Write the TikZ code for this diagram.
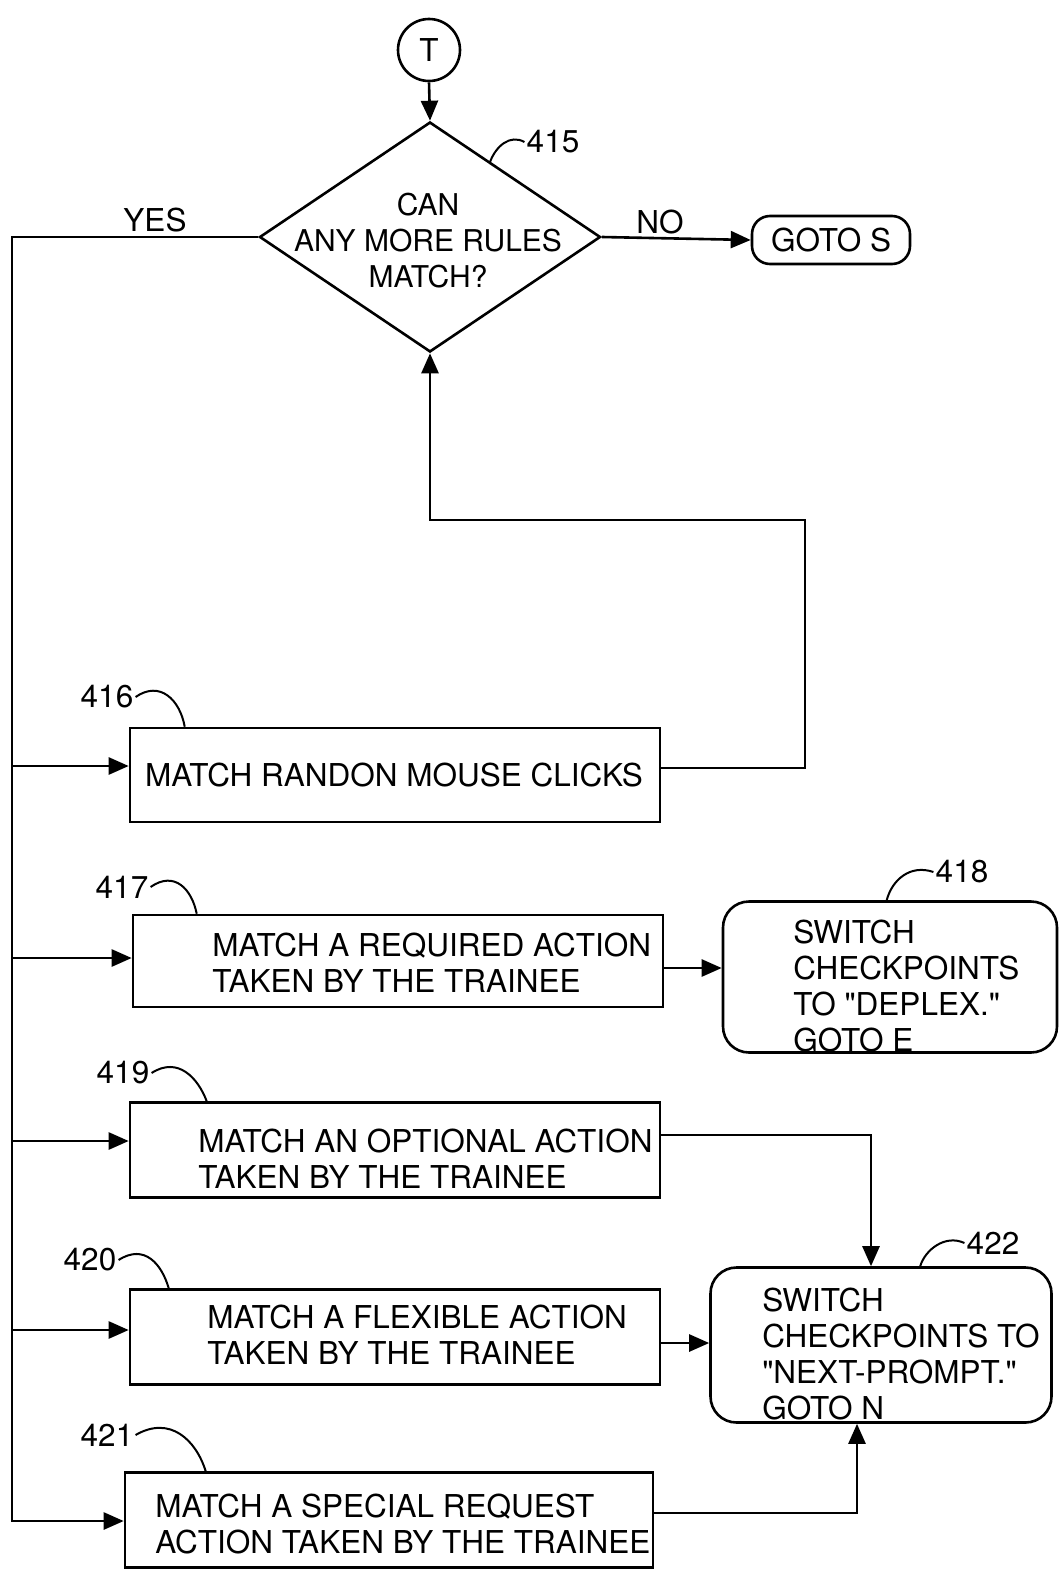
\documentclass[tikz,border=0pt]{standalone}
\usepackage{fontspec}
% no TeX mapping, so a typed " stays a straight double quote
\setmainfont{TeX Gyre Heros}[Ligatures=TeXOff]
\usetikzlibrary{shapes.geometric,arrows.meta,calc}
\begin{document}
\begin{tikzpicture}[x=1pt,y=-1pt,
  line width=2.6pt,
  every node/.style={font=\fontsize{31.5}{36}\selectfont},
  flow/.style={-{Triangle[length=20pt,width=17pt]}},
  lead/.style={line width=2pt},
  procbox/.style={draw,rectangle,inner sep=0pt},
  termbox/.style={draw,rectangle,rounded corners=26pt,inner sep=0pt},
  txt/.style={anchor=west,align=left,inner sep=0pt},
  refnum/.style={inner sep=1pt}]
\useasboundingbox (0,0) rectangle (1059,1570);

% connector T and decision 415
\node[draw,circle,minimum size=62pt,inner sep=0pt] (T) at (429,50) {T};
\node[draw,diamond,minimum width=341pt,minimum height=230pt,inner sep=0pt] (d415) at (430,237) {};
\node[align=center,inner sep=0pt,font=\fontsize{30}{36}\selectfont] (t415) at (428,241) {CAN\\ANY MORE RULES\\MATCH?};
\node[draw,rectangle,rounded corners=18pt,minimum width=158pt,minimum height=48pt,inner sep=0pt] (gotoS) at (831,240) {GOTO S};

\node (yes) at (155,220) {YES};
\node (no) at (660,222) {NO};

% process boxes
\node[procbox,minimum width=530pt,minimum height=94pt] (box416) at (395,775) {};
\node[procbox,minimum width=530pt,minimum height=92pt] (box417) at (398,961) {};
\node[termbox,minimum width=334pt,minimum height=151pt] (box418) at (890,977) {};
\node[procbox,minimum width=530pt,minimum height=95pt] (box419) at (395,1150) {};
\node[procbox,minimum width=530pt,minimum height=95pt] (box420) at (395,1337) {};
\node[procbox,minimum width=528pt,minimum height=95pt] (box421) at (389,1520) {};
\node[termbox,minimum width=341pt,minimum height=155pt] (box422) at (881,1345) {};

% box texts
\node[inner sep=0pt] (t416) at (394,775) {MATCH RANDON MOUSE CLICKS};
\node[txt] (t417) at (211,963) {MATCH A REQUIRED ACTION\\TAKEN BY THE TRAINEE};
\node[txt] (t418) at (792,986) {SWITCH\\CHECKPOINTS\\TO "DEPLEX."\\GOTO E};
\node[txt] (t419) at (197,1159) {MATCH AN OPTIONAL ACTION\\TAKEN BY THE TRAINEE};
\node[txt] (t420) at (206,1335) {MATCH A FLEXIBLE ACTION\\TAKEN BY THE TRAINEE};
\node[txt] (t421) at (154,1524) {MATCH A SPECIAL REQUEST\\ACTION TAKEN BY THE TRAINEE};
\node[txt] (t422) at (761,1354) {SWITCH\\CHECKPOINTS TO\\"NEXT-PROMPT."\\GOTO N};

% reference numerals
\node[refnum] (n415) at (553,142) {415};
\node[refnum] (n416) at (107,697) {416};
\node[refnum] (n417) at (122,887) {417};
\node[refnum] (n418) at (962,872) {418};
\node[refnum] (n419) at (123,1073) {419};
\node[refnum] (n420) at (90,1260) {420};
\node[refnum] (n421) at (107,1435) {421};
\node[refnum] (n422) at (993,1243) {422};

% leader lines
\draw[lead] (490,162) .. controls (496,146) and (510,134) .. (n415.west);
\draw[lead] (n416.east) .. controls (160,680) and (180,700) .. ($(box416.north west)+(56,0)$);
\draw[lead] (n417.east) .. controls (175,870) and (192,890) .. ($(box417.north west)+(65,0)$);
\draw[lead] ($(box418.north west)+(165,0)$) .. controls (892,880) and (910,864) .. (n418.west);
\draw[lead] (n419.east) .. controls (178,1056) and (198,1078) .. ($(box419.north west)+(78,0)$);
\draw[lead] (n420.east) .. controls (145,1243) and (162,1265) .. ($(box420.north west)+(40,0)$);
\draw[lead] (n421.east) .. controls (170,1415) and (196,1440) .. ($(box421.north west)+(82,0)$);
\draw[lead] ($(box422.north west)+(211,0)$) .. controls (925,1250) and (945,1234) .. (n422.west);

% main flow
\draw[flow] (T.south) -- (d415.north);
\draw[flow] (d415.east) -- (gotoS.west);

% YES bus down the left side
\coordinate (busTop) at (12,237);
\coordinate (busBot) at (12,1521);
\coordinate (j416) at (12,766);
\coordinate (j417) at (12,958);
\coordinate (j419) at (12,1141);
\coordinate (j420) at (12,1330);
\draw[flow] (d415.west) -- (busTop) -- (busBot) -- (box421.west |- busBot);
\draw[flow] (j416) -- (box416.west |- j416);
\draw[flow] (j417) -- (box417.west |- j417);
\draw[flow] (j419) -- (box419.west |- j419);
\draw[flow] (j420) -- (box420.west |- j420);

% return loop from 416
\coordinate (r416a) at (805,768);
\coordinate (r416b) at (805,520);
\draw[flow] (box416.east |- r416a) -- (r416a) -- (r416b) -- (d415.south |- r416b) -- (d415.south);

% right-hand outputs
\coordinate (a417) at (690,968);
\draw[flow] (box417.east |- a417) -- (box418.west |- a417);
\coordinate (k419) at (871,1135);
\draw[flow] (box419.east |- k419) -- (k419) -- (k419 |- box422.north);
\coordinate (a420) at (690,1343);
\draw[flow] (box420.east |- a420) -- (box422.west |- a420);
\coordinate (k421) at (857,1513);
\draw[flow] (box421.east |- k421) -- (k421) -- (k421 |- box422.south);
\end{tikzpicture}
\end{document}
